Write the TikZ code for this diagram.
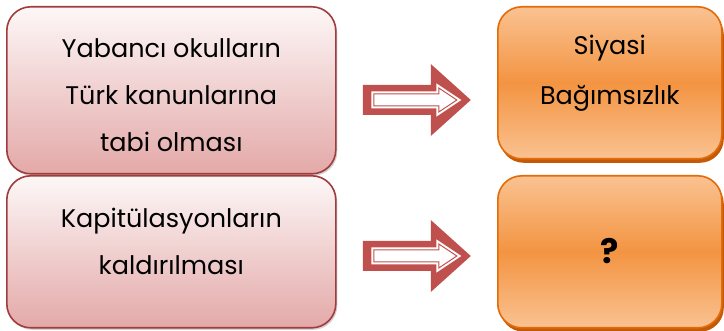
\documentclass[tikz,border=0pt]{standalone}
\usepackage{fontspec}
\setmainfont{Poppins}
\usetikzlibrary{shadows,calc}
\definecolor{pinkborder}{HTML}{A03C3C}
\definecolor{pinktop}{HTML}{FDF7F7}
\definecolor{pinkbot}{HTML}{E3A9A8}
\definecolor{orborder}{HTML}{E36C0A}
\definecolor{ortop}{HTML}{FAC291}
\definecolor{ormid}{HTML}{F39442}
\definecolor{orshadow}{HTML}{C45A08}
\definecolor{arrowred}{HTML}{C0504D}
\tikzset{
  pinkbox/.style={rectangle, rounded corners=24pt, anchor=north west, line width=1.6pt,
    draw=pinkborder, top color=pinktop, bottom color=pinkbot,
    drop shadow={shadow xshift=1.5pt, shadow yshift=-2pt, opacity=0.35}},
  orbox/.style={rectangle, rounded corners=24pt, anchor=north west, line width=1.6pt,
    draw=orborder, top color=ortop, bottom color=ortop, middle color=ormid,
    drop shadow={shadow xshift=2pt, shadow yshift=-4pt, fill=orshadow, opacity=1}},
  boxtext/.style={align=center, font=\fontsize{25.5}{47}\selectfont, text=black},
  pics/bigarrow/.style={code={
    \fill[arrowred] (-54,-15) -- (14,-15) -- (14,-36) -- (54,0) -- (14,36) -- (14,15) -- (-54,15) -- cycle;
    \filldraw[white, line width=5pt, line join=miter] (-43,-6) -- (22,-6) -- (22,-12) -- (40,0) -- (22,12) -- (22,6) -- (-43,6) -- cycle;
    \draw[arrowred, line width=1pt] (-43,-6) -- (22,-6) -- (22,-12) -- (40,0) -- (22,12) -- (22,6) -- (-43,6) -- cycle;
  }}
}
\begin{document}
\begin{tikzpicture}[x=1pt, y=-1pt]
\useasboundingbox (0,0) rectangle (724,331);
\node[pinkbox, minimum width=329pt, minimum height=167pt] (L1) at (6,6) {};
\node[pinkbox, minimum width=329pt, minimum height=152pt] (L2) at (6,175) {};
\node[orbox, minimum width=224pt, minimum height=152pt] (R1) at (497,6) {};
\node[orbox, minimum width=224pt, minimum height=152pt] (R2) at (497,175) {};
\node[boxtext] (t1) at ($(L1.north)+(0,89)$) {Yabancı okulların\\Türk kanunlarına\\tabi olması};
\node[boxtext] (t2) at ($(L2.north)+(0,66)$) {Kapitülasyonların\\kaldırılması};
\node[boxtext, font=\fontsize{25.5}{50}\selectfont] (t3) at ($(R1.north)+(0,67)$) {Siyasi\\Bağımsızlık};
\node[boxtext, font=\fontsize{34}{40}\selectfont\bfseries] (t4) at ($(R2.north)+(0,76)$) {?};
\coordinate (a1) at ($(L1.east)!0.5!(R1.west)$);
\coordinate (a2) at ($(L2.east)!0.5!(R2.west)$);
\pic at (a1 |- 0,100) {bigarrow};
\pic at (a2 |- 0,256) {bigarrow};
\end{tikzpicture}
\end{document}
